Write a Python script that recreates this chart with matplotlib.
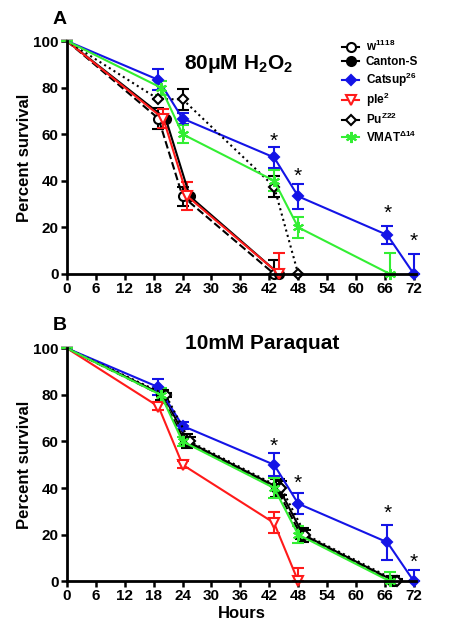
import matplotlib
matplotlib.use('Agg')
from matplotlib import pyplot as plt
from matplotlib.lines import Line2D

plt.rcParams['font.family'] = ['Liberation Sans', 'DejaVu Sans']
plt.rcParams['font.weight'] = 'bold'
plt.rcParams['mathtext.default'] = 'regular'

# ---- panel A: 80uM H2O2 ----
A_W1118_T = [0, 19, 24, 43]
A_W1118_S = [100, 66.7, 33.3, 0]
A_W1118_E = [0, 4.5, 4, 6]
A_CS_T = [0, 20.5, 25.5, 44]
A_CS_S = [100, 66.7, 33.3, 0]
A_CS_E = [0, 0, 0, 0]
A_CAT_T = [0, 19, 24, 43, 48, 66.5, 72]
A_CAT_S = [100, 83.3, 66.7, 50, 33.3, 16.7, 0]
A_CAT_E = [0, 4.5, 2.5, 4.5, 5.5, 4, 8.5]
A_PLE_T = [0, 20, 25, 44]
A_PLE_S = [100, 66.7, 33.3, 0]
A_PLE_E = [0, 4, 6, 9]
A_PU_T = [0, 19, 24, 43, 48]
A_PU_S = [100, 75, 75, 37.5, 0]
A_PU_E = [0, 0, 4.5, 4.5, 0]
A_VM_T = [0, 19.5, 24, 43, 48, 67]
A_VM_S = [100, 80, 60, 40, 20, 0]
A_VM_E = [0, 3, 4, 4.5, 4.5, 9]
A_STAR_T = [43, 48, 66.5, 72]
A_STAR_Y = [57, 42, 26, 14]

# ---- panel B: 10mM Paraquat ----
B_W1118_T = [0, 19.5, 24.5, 43.5, 48.5, 67.5]
B_W1118_S = [100, 80, 60, 40, 20, 0]
B_W1118_E = [0, 2, 2, 4, 2, 2]
B_CS_T = [0, 20, 25, 44, 49, 68]
B_CS_S = [100, 80, 60, 40, 20, 0]
B_CS_E = [0, 2, 3, 4, 3, 2]
B_CAT_T = [0, 19, 24, 43, 48, 66.5, 72]
B_CAT_S = [100, 83.3, 66.7, 50, 33.3, 16.7, 0]
B_CAT_E = [0, 3.5, 1.5, 5, 4.5, 7.5, 5]
B_PLE_T = [0, 19, 24, 43, 48]
B_PLE_S = [100, 75, 50, 25, 0]
B_PLE_E = [0, 1.5, 1.5, 4.5, 5.5]
B_PU_T = [0, 20.5, 25.5, 44.5, 49.5, 68.5]
B_PU_S = [100, 80, 60, 40, 20, 0]
B_PU_E = [0, 1, 2, 3, 2, 1]
B_VM_T = [0, 19.5, 24, 43, 48, 67]
B_VM_S = [100, 80, 60, 40, 20, 0]
B_VM_E = [0, 3, 2, 4.5, 3.5, 4]
B_STAR_T = [43, 48, 66.5, 72]
B_STAR_Y = [58, 42, 29, 8]

LABELS = ['w$^{1118}$', 'Canton-S', 'Catsup$^{26}$', 'ple$^{2}$', 'Pu$^{Z22}$', 'VMAT$^{\\Delta14}$']
XTICKS = list(range(0, 73, 6))
YTICKS = [0, 20, 40, 60, 80, 100]

BLUE = '#1414e6'
RED = '#ff1a1a'
GREEN = '#33ee33'
STAR = (6, 2, 0)

STYLES = [
    dict(color='black', ls='--', marker='o', mfc='white', mec='black', ms=6.5),
    dict(color='black', ls='-', marker='o', mfc='black', mec='black', ms=6.5),
    dict(color=BLUE, ls='-', marker='D', mfc=BLUE, mec=BLUE, ms=5.5),
    dict(color=RED, ls='-', marker='v', mfc='white', mec=RED, ms=6.5),
    dict(color='black', ls=':', marker='D', mfc='white', mec='black', ms=5.5),
    dict(color=GREEN, ls='-', marker=STAR, mfc=GREEN, mec=GREEN, ms=8),
]


def draw(ax, series, stars_t, stars_y):
    for (t, s, e), st in zip(series, STYLES):
        lower = [min(a, b) for a, b in zip(e, s)]
        h = ax.errorbar(t, s, yerr=[lower, e], capsize=4, capthick=1.5, elinewidth=1.5,
                        lw=1.5, mew=1.5, markevery=slice(1, None), **st)
        h.lines[0].set_clip_on(False)
        for art in h.lines[1]:
            art.set_clip_on(False)
        for art in h.lines[2]:
            art.set_clip_on(False)
    for x, y in zip(stars_t, stars_y):
        ax.text(x, y, '*', ha='center', va='center', fontsize=15, fontweight='normal')
    ax.set_xlim(0, 72.5)
    ax.set_ylim(0, 100)
    ax.set_xticks(XTICKS)
    ax.set_yticks(YTICKS)
    for sp in ['top', 'right']:
        ax.spines[sp].set_visible(False)
    for sp in ['left', 'bottom']:
        ax.spines[sp].set_linewidth(2)
    ax.tick_params(direction='out', length=4, width=1.8, labelsize=11, pad=2)
    for lbl in ax.get_xticklabels() + ax.get_yticklabels():
        lbl.set_fontweight('bold')
    ax.set_ylabel('Percent survival', fontsize=12, fontweight='bold', labelpad=1)


fig = plt.figure(figsize=(4.65, 6.31), dpi=100)
axA = fig.add_axes([0.144, 0.566, 0.751, 0.369])
axB = fig.add_axes([0.144, 0.079, 0.751, 0.369])

draw(axA, [(A_W1118_T, A_W1118_S, A_W1118_E), (A_CS_T, A_CS_S, A_CS_E),
           (A_CAT_T, A_CAT_S, A_CAT_E), (A_PLE_T, A_PLE_S, A_PLE_E),
           (A_PU_T, A_PU_S, A_PU_E), (A_VM_T, A_VM_S, A_VM_E)],
     A_STAR_T, A_STAR_Y)
draw(axB, [(B_W1118_T, B_W1118_S, B_W1118_E), (B_CS_T, B_CS_S, B_CS_E),
           (B_CAT_T, B_CAT_S, B_CAT_E), (B_PLE_T, B_PLE_S, B_PLE_E),
           (B_PU_T, B_PU_S, B_PU_E), (B_VM_T, B_VM_S, B_VM_E)],
     B_STAR_T, B_STAR_Y)

axA.text(0.49, 0.9, '80μM H$_2$O$_2$', transform=axA.transAxes, ha='center',
         va='center', fontsize=15, fontweight='bold')
axB.text(0.56, 1.02, '10mM Paraquat', transform=axB.transAxes, ha='center',
         va='center', fontsize=15, fontweight='bold')
axB.set_xlabel('Hours', fontsize=12, fontweight='bold', labelpad=2)

fig.text(60 / 465, 1 - 20 / 631, 'A', fontsize=14, fontweight='bold', va='center', ha='center')
fig.text(60 / 465, 1 - 325 / 631, 'B', fontsize=14, fontweight='bold', va='center', ha='center')

handles = [Line2D([], [], lw=1.5, mew=1.5, **dict(st, ls='-')) for st in STYLES]
axA.legend(handles=handles, labels=LABELS, loc='upper left',
           bbox_to_anchor=(0.78, 1.02), frameon=False, fontsize=8.5,
           handlelength=1.5, handletextpad=0.55, labelspacing=0.2,
           borderpad=0.2, borderaxespad=0, numpoints=1)

fig.savefig('out.png', dpi=100)
